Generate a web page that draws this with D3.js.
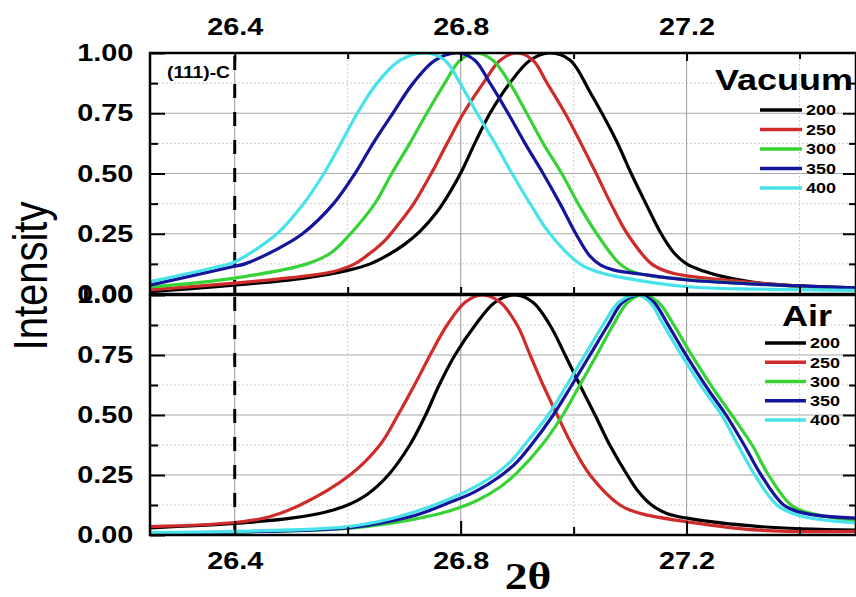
<!DOCTYPE html>
<html>
<head>
<meta charset="utf-8">
<script src="https://cdnjs.cloudflare.com/ajax/libs/d3/7.8.5/d3.min.js"></script>
<style>
  body { margin: 0; background: #fff; }
  svg { display: block; }
</style>
</head>
<body>
<svg id="chart"></svg>
<script>
// values: [2theta, normalised intensity]
const temps = ["200", "250", "300", "350", "400"];
const colors = ["#000000", "#cf2b2b", "#36d236", "#15159c", "#48e2ea"];

const vacuum200 = [[26.25,0.010],[26.40,0.037],[26.52,0.065],[26.60,0.098],[26.64,0.125],[26.67,0.16],
  [26.70,0.205],[26.728,0.26],[26.758,0.34],[26.783,0.43],[26.804,0.52],[26.826,0.63],[26.852,0.75],
  [26.887,0.875],[26.923,0.97],[26.958,1.0],[26.994,0.97],[27.029,0.838],[27.075,0.639],[27.102,0.5],
  [27.128,0.375],[27.155,0.25],[27.178,0.17],[27.20,0.125],[27.23,0.095],[27.259,0.075],[27.33,0.045],
  [27.50,0.025]];
const vacuum250 = [[26.25,0.017],[26.40,0.045],[26.50,0.068],[26.569,0.09],[26.61,0.122],[26.64,0.17],
  [26.667,0.225],[26.69,0.29],[26.717,0.375],[26.748,0.5],[26.776,0.625],[26.805,0.75],[26.84,0.875],
  [26.87,0.97],[26.90,1.0],[26.928,0.97],[26.953,0.875],[26.985,0.75],[27.013,0.625],[27.04,0.5],
  [27.066,0.375],[27.095,0.25],[27.138,0.125],[27.17,0.09],[27.201,0.075],[27.33,0.045],[27.50,0.020]];
const vacuum300 = [[26.25,0.029],[26.40,0.066],[26.528,0.125],[26.57,0.17],[26.605,0.25],[26.648,0.375],
  [26.678,0.5],[26.71,0.625],[26.74,0.75],[26.772,0.875],[26.799,0.97],[26.827,1.0],[26.857,0.97],
  [26.887,0.875],[26.917,0.75],[26.946,0.625],[26.979,0.5],[27.008,0.375],[27.041,0.25],[27.082,0.125],
  [27.11,0.088],[27.201,0.060],[27.33,0.040],[27.50,0.020]];
const vacuum350 = [[26.25,0.037],[26.40,0.115],[26.418,0.125],[26.47,0.18],[26.52,0.25],[26.575,0.375],
  [26.613,0.5],[26.645,0.625],[26.68,0.75],[26.716,0.875],[26.755,0.97],[26.795,1.0],[26.825,0.97],
  [26.852,0.875],[26.884,0.75],[26.914,0.625],[26.946,0.5],[26.976,0.375],[27.004,0.25],[27.028,0.16],
  [27.048,0.12],[27.07,0.10],[27.118,0.083],[27.201,0.058],[27.33,0.040],[27.50,0.025]];
const vacuum400 = [[26.25,0.051],[26.383,0.120],[26.40,0.133],[26.475,0.25],[26.522,0.375],[26.558,0.5],
  [26.588,0.625],[26.617,0.75],[26.652,0.875],[26.693,0.97],[26.737,1.0],[26.772,0.97],[26.799,0.875],
  [26.829,0.75],[26.861,0.625],[26.891,0.5],[26.923,0.375],[26.958,0.25],[27.011,0.125],[27.045,0.09],
  [27.082,0.070],[27.201,0.030],[27.33,0.020],[27.50,0.015]];

const air200 = [[26.25,0.030],[26.40,0.048],[26.50,0.07],[26.56,0.095],[26.60,0.125],[26.635,0.17],
  [26.672,0.25],[26.71,0.375],[26.738,0.5],[26.762,0.625],[26.79,0.75],[26.826,0.875],[26.861,0.97],
  [26.896,1.0],[26.928,0.97],[26.958,0.875],[26.985,0.75],[27.011,0.625],[27.038,0.5],[27.064,0.375],
  [27.095,0.25],[27.115,0.18],[27.138,0.125],[27.165,0.09],[27.201,0.070],[27.33,0.035],[27.50,0.020]];
const air250 = [[26.25,0.035],[26.40,0.052],[26.46,0.075],[26.516,0.125],[26.604,0.25],[26.657,0.375],
  [26.689,0.5],[26.723,0.646],[26.746,0.75],[26.776,0.875],[26.808,0.97],[26.838,1.0],[26.87,0.97],
  [26.90,0.875],[26.923,0.75],[26.946,0.625],[26.971,0.5],[26.997,0.375],[27.029,0.25],[27.082,0.125],
  [27.118,0.090],[27.201,0.055],[27.33,0.020],[27.50,0.015]];
const air300 = [[26.25,0.005],[26.40,0.012],[26.601,0.028],[26.68,0.05],[26.73,0.072],[26.78,0.10],
  [26.83,0.145],[26.87,0.20],[26.90,0.26],[26.944,0.375],[26.981,0.5],[27.011,0.625],[27.041,0.75],
  [27.07,0.875],[27.096,0.97],[27.123,1.0],[27.15,0.97],[27.175,0.885],[27.20,0.785],[27.225,0.69],
  [27.25,0.60],[27.28,0.5],[27.316,0.375],[27.345,0.25],[27.385,0.125],[27.42,0.09],[27.50,0.060]];
const air350 = [[26.25,0.007],[26.40,0.013],[26.601,0.030],[26.68,0.06],[26.73,0.09],[26.78,0.135],
  [26.825,0.18],[26.87,0.245],[26.90,0.305],[26.925,0.375],[26.964,0.5],[26.997,0.625],[27.029,0.75],
  [27.061,0.875],[27.087,0.97],[27.118,1.0],[27.142,0.97],[27.165,0.885],[27.19,0.785],[27.215,0.69],
  [27.24,0.60],[27.27,0.5],[27.302,0.375],[27.332,0.25],[27.372,0.125],[27.41,0.09],[27.50,0.070]];
const air400 = [[26.25,0.010],[26.40,0.015],[26.601,0.035],[26.68,0.07],[26.73,0.105],[26.775,0.145],
  [26.817,0.19],[26.86,0.25],[26.89,0.31],[26.913,0.375],[26.955,0.5],[26.988,0.625],[27.02,0.75],
  [27.052,0.875],[27.08,0.97],[27.112,1.0],[27.135,0.97],[27.157,0.885],[27.182,0.785],[27.207,0.69],
  [27.232,0.60],[27.262,0.5],[27.291,0.375],[27.321,0.25],[27.36,0.125],[27.40,0.08],[27.50,0.050]];

const xTicks = [26.4, 26.8, 27.2];
const xMinor = [26.6, 27.0, 27.4];
const yTicks = [0, 0.25, 0.5, 0.75, 1];
const yMinor = [0.125, 0.375, 0.625, 0.875];
const refLine = 26.4;   // (111)-C position

const width = 856, height = 597;
const stretch = 1.2;    // the source figure is squeezed wider than tall
const font = "'Liberation Sans', Arial, sans-serif";

const svg = d3.select("#chart").attr("width", width).attr("height", height);
svg.append("rect").attr("width", width).attr("height", height).attr("fill", "#fff");

const x = d3.scaleLinear().domain([26.25, 27.5]).range([150, 856]);

const panels = [
  { name: "Vacuum", series: [vacuum200, vacuum250, vacuum300, vacuum350, vacuum400],
    y: d3.scaleLinear().domain([0, 1]).range([294, 53]),
    legend: { tx: 715, ty: 90, tsize: 30, x0: 760, x1: 802, lx: 806, row0: 110, step: 19.5 } },
  { name: "Air", series: [air200, air250, air300, air350, air400],
    y: d3.scaleLinear().domain([0, 1]).range([535, 295]),
    legend: { tx: 782, ty: 326, tsize: 30, x0: 765, x1: 806, lx: 810, row0: 343, step: 19.25 } }
];

function stretched(sel, px, py) {
  return sel.attr("transform", `translate(${px},${py}) scale(${stretch},1)`);
}

function styleAxis(g) {
  g.select(".domain").remove();
  g.selectAll(".tick line").attr("stroke", "#000").attr("stroke-width", 2);
  g.selectAll(".tick text")
   .attr("fill", "#000")
   .style("font-family", font)
   .style("font-weight", "bold")
   .style("font-size", "24px")
   .attr("transform", `scale(${stretch},1)`);
}

panels.forEach((p, i) => {
  const y = p.y;
  const [y0, y1] = y.range();
  const g = svg.append("g");

  g.append("clipPath").attr("id", "clip" + i)
   .append("rect").attr("x", 150).attr("y", y1).attr("width", 706).attr("height", y0 - y1);

  // grid
  const grid = g.append("g");
  grid.selectAll(".gy").data([0.25, 0.5, 0.75]).enter().append("line")
      .attr("x1", 150).attr("x2", 856).attr("y1", d => y(d)).attr("y2", d => y(d))
      .attr("stroke", "#a8a8a8").attr("stroke-width", 1.2);
  grid.selectAll(".gym").data(yMinor).enter().append("line")
      .attr("x1", 150).attr("x2", 856).attr("y1", d => y(d)).attr("y2", d => y(d))
      .attr("stroke", "#cfcfcf").attr("stroke-width", 1).attr("stroke-dasharray", "2,2");
  grid.selectAll(".gx").data(xTicks).enter().append("line")
      .attr("y1", y0).attr("y2", y1).attr("x1", d => x(d)).attr("x2", d => x(d))
      .attr("stroke", "#a8a8a8").attr("stroke-width", 1.2);
  grid.selectAll(".gxm").data(xMinor).enter().append("line")
      .attr("y1", y0).attr("y2", y1).attr("x1", d => x(d)).attr("x2", d => x(d))
      .attr("stroke", "#cfcfcf").attr("stroke-width", 1).attr("stroke-dasharray", "2,2");

  // dashed reference line
  g.append("line")
   .attr("x1", x(refLine)).attr("x2", x(refLine)).attr("y1", y0).attr("y2", y1)
   .attr("stroke", "#000").attr("stroke-width", 3).attr("stroke-dasharray", "14,14");

  // curves
  const line = d3.line().x(d => x(d[0])).y(d => y(d[1])).curve(d3.curveCatmullRom.alpha(0.5));
  g.append("g").attr("clip-path", `url(#clip${i})`)
   .selectAll("path").data(p.series).enter().append("path")
   .attr("d", line)
   .attr("fill", "none")
   .attr("stroke", (d, k) => colors[k])
   .attr("stroke-width", 3.2)
   .attr("stroke-linejoin", "round");

  // axes, ticks pointing inward
  g.append("g").attr("transform", "translate(150,0)")
   .call(d3.axisLeft(y).tickValues(yTicks).tickFormat(d3.format(".2f")).tickSize(-15).tickPadding(14))
   .call(styleAxis);
  g.append("g").attr("transform", "translate(150,0)")
   .call(d3.axisLeft(y).tickValues(yMinor).tickFormat("").tickSize(-8))
   .call(styleAxis);
  g.append("g").attr("transform", "translate(856,0)")
   .call(d3.axisRight(y).tickValues([0.25, 0.5, 0.75]).tickFormat("").tickSize(-13))
   .call(styleAxis);
  g.append("g").attr("transform", "translate(856,0)")
   .call(d3.axisRight(y).tickValues(yMinor).tickFormat("").tickSize(-7))
   .call(styleAxis);

  if (i === 0) {
    g.append("g").attr("transform", `translate(0,${y1})`)
     .call(d3.axisTop(x).tickValues(xTicks).tickFormat(d3.format(".1f")).tickSize(-8).tickPadding(18))
     .call(styleAxis);
    g.append("g").attr("transform", `translate(0,${y1})`)
     .call(d3.axisTop(x).tickValues(xMinor).tickFormat("").tickSize(-6))
     .call(styleAxis);
    g.append("g").attr("transform", `translate(0,${y0})`)
     .call(d3.axisBottom(x).tickValues(xTicks.concat(xMinor)).tickFormat("").tickSize(-7))
     .call(styleAxis);
  } else {
    g.append("g").attr("transform", `translate(0,${y0})`)
     .call(d3.axisBottom(x).tickValues(xTicks).tickFormat(d3.format(".1f")).tickSize(-14).tickPadding(17))
     .call(styleAxis);
    g.append("g").attr("transform", `translate(0,${y0})`)
     .call(d3.axisBottom(x).tickValues(xMinor).tickFormat("").tickSize(-8))
     .call(styleAxis);
  }

  // frame
  g.append("rect")
   .attr("x", 150).attr("y", y1).attr("width", 706).attr("height", y0 - y1)
   .attr("fill", "none").attr("stroke", "#000").attr("stroke-width", 2.5);

  // legend
  const L = p.legend;
  stretched(g.append("text"), L.tx, L.ty)
   .text(p.name)
   .style("font-family", font).style("font-weight", "bold").style("font-size", L.tsize + "px");
  temps.forEach((t, k) => {
    const ry = L.row0 + k * L.step;
    g.append("line")
     .attr("x1", L.x0).attr("x2", L.x1).attr("y1", ry).attr("y2", ry)
     .attr("stroke", colors[k]).attr("stroke-width", 3.5);
    stretched(g.append("text"), L.lx, ry)
     .attr("dy", "0.36em")
     .text(t)
     .style("font-family", font).style("font-weight", "bold").style("font-size", "15px");
  });
});

// peak marker label
stretched(svg.append("text"), 167, 78)
  .text("(111)-C")
  .style("font-family", font).style("font-weight", "bold").style("font-size", "16px");

// axis titles
svg.append("text")
  .attr("transform", `translate(47,276) scale(${stretch},1) rotate(-90)`)
  .attr("text-anchor", "middle")
  .text("Intensity")
  .style("font-family", font).style("font-size", "40px");

stretched(svg.append("text"), 528, 589)
  .attr("text-anchor", "middle")
  .text("2θ")
  .style("font-family", "'Liberation Serif', 'Times New Roman', serif")
  .style("font-weight", "bold").style("font-size", "38px");
</script>
</body>
</html>
